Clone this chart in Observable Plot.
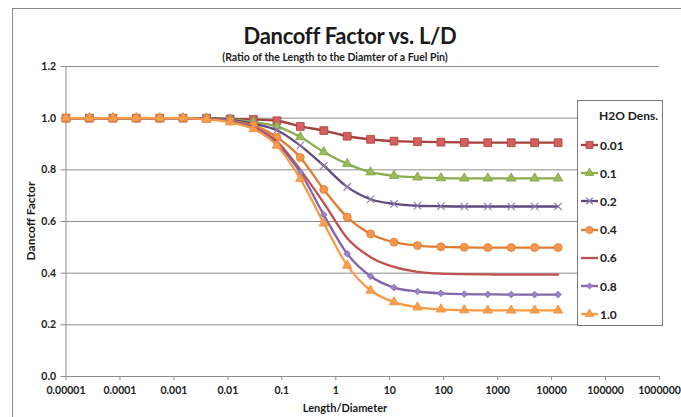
<!DOCTYPE html>
<html>
<head>
<meta charset="utf-8">
<script src="https://cdn.jsdelivr.net/npm/d3@7"></script>
<script src="https://cdn.jsdelivr.net/npm/@observablehq/plot@0.6"></script>
<style>
  html, body { margin: 0; padding: 0; background: #fff; }
  #wrap { position: relative; width: 681px; height: 417px; overflow: hidden; font-family: Lato, "Open Sans", sans-serif; font-weight: bold; color: #1a1a1a; }
  #wrap > svg { position: absolute; left: 0; top: 0; }
  .abs { position: absolute; white-space: nowrap; }
  #frame { position: absolute; left: 12px; top: 8px; width: 700px; height: 440px; border-left: 1px solid #888; border-top: 1px solid #888; }
  #legend { position: absolute; left: 577px; top: 100px; width: 84px; height: 224px; border: 1px solid #7a7a7a; background: #fff; }
  .lg-row { position: absolute; left: 3px; display: flex; align-items: center; font-size: 12px; height: 14px; }
  .lg-row svg { display: block; margin-right: 2px; }
</style>
</head>
<body>
<div id="wrap"></div>
<script>
// ---- data ----
const LD = [0.00001, 0.0000272, 0.0000739, 0.000201, 0.000546, 0.00148, 0.00403, 0.011, 0.0298, 0.081, 0.22, 0.599, 1.63, 4.42, 12.0, 32.7, 88.9, 241, 657, 1785, 4852, 13188];
const densLabels = ["0.01", "0.1", "0.2", "0.4", "0.6", "0.8", "1.0"];
const dens001 = [1,1,1,1,1,1,1,0.997,0.995,0.99,0.968,0.952,0.93,0.918,0.911,0.909,0.907,0.906,0.905,0.905,0.905,0.905];
const dens01  = [1,1,1,1,1,1,1,0.996,0.985,0.968,0.927,0.869,0.823,0.791,0.777,0.771,0.768,0.767,0.767,0.767,0.767,0.767];
const dens02  = [1,1,1,1,1,1,1,0.994,0.978,0.953,0.894,0.816,0.734,0.686,0.668,0.661,0.659,0.658,0.658,0.658,0.658,0.658];
const dens04  = [1,1,1,1,1,1,0.999,0.99,0.972,0.926,0.848,0.724,0.617,0.552,0.52,0.507,0.502,0.5,0.499,0.499,0.499,0.499];
const dens06  = [1,1,1,1,1,1,0.998,0.988,0.966,0.91,0.8,0.672,0.535,0.462,0.424,0.405,0.398,0.396,0.395,0.394,0.394,0.394];
const dens08  = [1,1,1,1,1,1,0.997,0.987,0.963,0.9,0.79,0.626,0.475,0.388,0.344,0.329,0.322,0.319,0.318,0.317,0.317,0.317];
const dens10  = [1,1,1,1,1,1,0.995,0.984,0.958,0.894,0.765,0.593,0.43,0.333,0.288,0.268,0.26,0.257,0.256,0.256,0.256,0.256];
const xTicks = [1e-5, 1e-4, 1e-3, 1e-2, 1e-1, 1, 10, 100, 1000, 10000, 100000, 1000000];
const xTickLabels = ["0.00001", "0.0001", "0.001", "0.01", "0.1", "1", "10", "100", "1000", "10000", "100000", "1000000"];
const yTicks = [0, 0.2, 0.4, 0.6, 0.8, 1.0, 1.2];

// ---- styling per series ----
const seriesValues = [dens001, dens01, dens02, dens04, dens06, dens08, dens10];
const styles = [
  {line: "#A8403C", symbol: "square",   fill: "#D4605D", stroke: "#A8403C", r: 4.4},
  {line: "#8AAD4D", symbol: "triangle", fill: "#9BBB59", stroke: "#7E9F45", r: 3.5},
  {line: "#5E4A80", symbol: "times",    fill: "none",    stroke: "#8E7BB0", r: 3.4},
  {line: "#E07C33", symbol: "circle",   fill: "#F5964B", stroke: "#E07C33", r: 4.0},
  {line: "#C0504D", symbol: null},
  {line: "#8366AA", symbol: "diamond2", fill: "#9C82C6", stroke: "#8366AA", r: 3.0},
  {line: "#F99A44", symbol: "triangle", fill: "#F9A04F", stroke: "#F08C36", r: 3.5}
];

const marks = [
  Plot.gridY(yTicks.filter(d => d > 0), {stroke: "#8c8c8c", strokeOpacity: 1}),
  Plot.ruleY([0], {stroke: "#8c8c8c"}),
  Plot.ruleX([1e-5], {stroke: "#8c8c8c"}),
  Plot.axisY(yTicks, {tickFormat: d => d.toFixed(1), tickSize: 5, tickPadding: 5, stroke: "#8c8c8c", fill: "#1a1a1a", fontSize: 10.5, label: null}),
  Plot.axisX(xTicks, {tickFormat: d => xTickLabels[Math.round(Math.log10(d)) + 5], tickSize: 4, tickPadding: 6, stroke: "#8c8c8c", fill: "#1a1a1a", fontSize: 10.5, label: null})
];

seriesValues.forEach((vals, i) => {
  const data = LD.map((x, j) => ({x, y: vals[j]}));
  const s = styles[i];
  marks.push(Plot.line(data, {x: "x", y: "y", stroke: s.line, strokeWidth: 2.3, curve: "monotone-x"}));
  if (s.symbol) {
    marks.push(Plot.dot(data, {x: "x", y: "y", symbol: s.symbol, r: s.r, fill: s.fill, stroke: s.stroke, strokeWidth: s.symbol === "times" ? 1.2 : 0.8}));
  }
});

const chart = Plot.plot({
  width: 681, height: 417,
  marginLeft: 65.5, marginRight: 22, marginTop: 66, marginBottom: 41,
  x: {type: "log", domain: [1e-5, 1e6]},
  y: {domain: [0, 1.2]},
  style: {fontFamily: "Lato, 'Open Sans', sans-serif", fontWeight: "bold", background: "transparent"},
  marks
});

const wrap = document.getElementById("wrap");
wrap.appendChild(chart);

function addText(txt, css) {
  const d = document.createElement("div");
  d.className = "abs";
  d.textContent = txt;
  Object.assign(d.style, css);
  wrap.appendChild(d);
  return d;
}
const frame = document.createElement("div"); frame.id = "frame"; wrap.appendChild(frame);

addText("Dancoff Factor vs. L/D", {left: "350px", top: "23px", fontSize: "22px", transform: "translateX(-50%)", lineHeight: "26px", letterSpacing: "-0.3px"});
addText("(Ratio of the Length to the Diamter of a Fuel Pin)", {left: "335px", top: "51px", fontSize: "10.5px", transform: "translateX(-50%)", lineHeight: "13px"});
addText("Length/Diameter", {left: "345px", top: "401px", fontSize: "11px", transform: "translateX(-50%)", lineHeight: "14px"});
addText("Dancoff Factor", {left: "31px", top: "221px", fontSize: "12px", transform: "translate(-50%,-50%) rotate(-90deg)", lineHeight: "14px"});

// legend
const legend = document.createElement("div"); legend.id = "legend"; wrap.appendChild(legend);
const head = document.createElement("div");
head.className = "abs"; head.textContent = "H2O Dens.";
Object.assign(head.style, {left: "21px", top: "8px", fontSize: "12px", lineHeight: "14px"});
legend.appendChild(head);
densLabels.forEach((lab, i) => {
  const s = styles[i];
  const row = document.createElement("div");
  row.className = "lg-row";
  row.style.top = (37 + i * 28.2) + "px";
  const svg = d3.create("svg").attr("width", 17).attr("height", 12);
  svg.append("line").attr("x1", 0).attr("x2", 17).attr("y1", 6).attr("y2", 6).attr("stroke", s.line).attr("stroke-width", 2.3);
  if (s.symbol) {
    const map = {square: d3.symbolSquare, triangle: d3.symbolTriangle, times: d3.symbolTimes, circle: d3.symbolCircle, diamond2: d3.symbolDiamond2};
    const rr = s.r * 0.9;
    svg.append("path").attr("transform", "translate(8.5,6)")
      .attr("d", d3.symbol(map[s.symbol], Math.PI * rr * rr)())
      .attr("fill", s.fill).attr("stroke", s.stroke).attr("stroke-width", s.symbol === "times" ? 1.2 : 0.8);
  }
  row.appendChild(svg.node());
  const t = document.createElement("span"); t.textContent = lab; row.appendChild(t);
  legend.appendChild(row);
});
</script>
</body>
</html>
